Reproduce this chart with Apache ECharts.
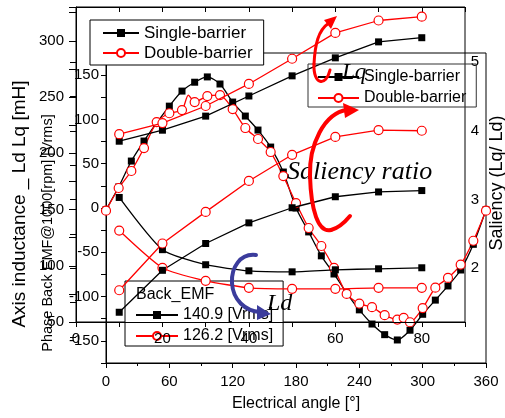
<!DOCTYPE html>
<html>
<head>
<meta charset="utf-8">
<script src="https://cdn.jsdelivr.net/npm/echarts@6.0.0/dist/echarts.min.js"></script>
<style>
  html, body { margin: 0; padding: 0; background: #fff; }
  #main { width: 505px; height: 418px; }
</style>
</head>
<body>
<div id="main"></div>
<script>
// 电流角 beta（度），Ld/Lq 与凸极比的横坐标
var beta = [10, 20, 30, 40, 50, 60, 70, 80];
var lqSingle = [210.7, 220.5, 233, 250.9, 268.8, 284.8, 299, 302.7];
var lqDouble = [217, 226.8, 242, 261.6, 284, 307, 318, 321.4];
var ldSingle = [160.7, 114.3, 100.9, 95.5, 94.6, 96.4, 97.3, 98.2];
var ldDouble = [131.3, 98.2, 86.6, 80.4, 79.5, 79.5, 80.4, 80.4];
var salSingle = [1.36, 1.97, 2.36, 2.66, 2.88, 3.04, 3.11, 3.13];
var salDouble = [1.68, 2.36, 2.82, 3.27, 3.65, 3.91, 4.01, 4.00];

// 反电势波形（电角度）
var emfAngleBlack = [0, 12, 24, 36, 48, 60, 72, 84, 96, 108, 120, 132, 144, 156, 168, 180,
  192, 204, 216, 228, 240, 252, 264, 276, 288, 300, 312, 324, 336, 348, 360];
var emfBlack = [-2, 23.7, 53, 75.6, 96, 115, 132, 142, 148, 140, 119.6, 103.8, 88, 68.8, 40.6, 0,
  -27, -54, -74.5, -96, -115, -131, -143, -149, -138, -120, -104, -88, -70, -41, -2];
var emfAngleRed = [0, 12, 24, 36, 48, 60, 72, 78, 84, 96, 108, 120, 132, 144, 156, 168, 180,
  192, 204, 216, 228, 240, 252, 264, 276, 282, 288, 300, 312, 324, 336, 348, 360];
var emfRed = [-3, 22.6, 41.8, 67.7, 97, 107, 110.6, 127.5, 119.6, 126.4, 127.5, 111.7, 90.3, 77.9, 63.2, 36, 5.6,
  -22.6, -42.9, -67.7, -97, -108, -112, -121, -126, -124, -129, -113, -90, -79, -64, -37, -3];
var redNoMarker = [78];  // 这个折点没有画圆圈

var emfTicks = [0, 60, 120, 180, 240, 300, 360];
var betaLabels = [0, 20, 40, 60, 80];
var lddTicks = [50, 100, 150, 200, 250, 300];
var emfLabels = [-150, -100, -50, 0, 50, 100, 150];
var salLabels = [2, 3, 4, 5];

var FONT = '"Liberation Sans", Arial, sans-serif';
var SERIF = '"Liberation Serif", "Times New Roman", serif';
var RED = '#ff0000';
var BLUE = '#3b3c9c';

function mk(name, xs, ys, red, xi, yi, z, smooth, skip) {
  var data = xs.map(function (x, i) {
    if (skip && skip.indexOf(x) >= 0) return { value: [x, ys[i]], symbol: 'none' };
    return [x, ys[i]];
  });
  return {
    name: name, type: 'line', xAxisIndex: xi, yAxisIndex: yi, z: z,
    data: data,
    symbol: red ? 'circle' : 'rect',
    symbolSize: red ? 9 : 7,
    smooth: smooth || false,
    lineStyle: { color: red ? RED : '#000', width: 1.3 },
    itemStyle: red ? { color: '#fff', borderColor: RED, borderWidth: 1.2 } : { color: '#000', borderWidth: 0 },
    emphasis: { disabled: true },
    silent: true
  };
}

function lbl(extra) {
  var o = { color: '#000', fontFamily: FONT, fontSize: 15 };
  for (var k in extra) o[k] = extra[k];
  return o;
}
function txt(s, x, y, font, align, rot) {
  return { type: 'text', x: x, y: y, rotation: rot || 0, z: 10,
    style: { text: s, font: font, fill: '#000', align: align, verticalAlign: 'middle', textAlign: align, textVerticalAlign: 'middle' } };
}
// 手绘的弯箭头，用三次贝塞尔曲线拼
function curve(p, color, w) {
  return { type: 'bezierCurve', z: 11,
    shape: { x1: p[0], y1: p[1], cpx1: p[2], cpy1: p[3], cpx2: p[4], cpy2: p[5], x2: p[6], y2: p[7] },
    style: { stroke: color, lineWidth: w, fill: null, lineCap: 'round' } };
}
function head(pts, color) {
  return { type: 'polygon', z: 11, shape: { points: pts }, style: { fill: color } };
}
var black = { color: '#000', width: 1 };

var dom = document.getElementById('main');
var myChart = echarts.init(dom, null, { renderer: 'canvas' });

var option = {
  animation: false,
  backgroundColor: '#fff',
  grid: [
    { left: 106, right: 19, top: 53, bottom: 55, show: true, borderColor: '#000', borderWidth: 1, backgroundColor: 'transparent', outerBoundsMode: 'none' },
    { left: 76, right: 40, top: 7, bottom: 96, show: true, borderColor: '#000', borderWidth: 1, backgroundColor: 'transparent', outerBoundsMode: 'none' },
    { left: 76, right: 40, top: 62, bottom: 81, outerBoundsMode: 'none' }
  ],
  xAxis: [
    { gridIndex: 0, type: 'value', min: 0, max: 360, interval: 60,
      axisLine: { onZero: false, lineStyle: black },
      axisTick: { length: 5, lineStyle: black },
      minorTick: { show: true, splitNumber: 2, length: 3, lineStyle: black },
      splitLine: { show: false },
      axisLabel: lbl({ margin: 11, formatter: function (v) { return emfTicks.indexOf(v) >= 0 ? String(v) : ''; } }) },
    { gridIndex: 1, type: 'value', min: 0, max: 90, interval: 10, z: 4,
      axisLine: { onZero: false, lineStyle: black },
      axisTick: { length: 5, lineStyle: black },
      splitLine: { show: false },
      axisLabel: lbl({ margin: 9, formatter: function (v) { return betaLabels.indexOf(v) >= 0 ? String(v) : ''; } }) },
    { gridIndex: 1, type: 'value', min: 0, max: 90, interval: 10, position: 'top', z: 4,
      axisLine: { onZero: false, lineStyle: black },
      axisTick: { inside: true, length: 5, lineStyle: black },
      splitLine: { show: false }, axisLabel: { show: false } },
    { gridIndex: 2, type: 'value', min: 0, max: 90, show: false }
  ],
  yAxis: [
    { gridIndex: 0, type: 'value', min: -175, max: 175, interval: 25,
      axisLine: { onZero: false, lineStyle: black },
      axisTick: { length: 5, lineStyle: black },
      splitLine: { show: false },
      axisLabel: lbl({ margin: 7, formatter: function (v) { return emfLabels.indexOf(v) >= 0 ? String(v) : ''; } }) },
    { gridIndex: 1, type: 'value', min: 50, max: 330, interval: 25, z: 4, position: 'left',
      axisLine: { onZero: false, lineStyle: black },
      axisTick: { length: 7, lineStyle: black },
      splitLine: { show: false },
      axisLabel: lbl({ margin: 12, formatter: function (v) { return lddTicks.indexOf(v) >= 0 ? String(v) : ''; } }) },
    { gridIndex: 2, type: 'value', min: 1, max: 5, interval: 0.5, position: 'right', offset: 21, z: 4,
      axisLine: { show: false },
      axisTick: { show: true, inside: true, length: 6, lineStyle: black },
      splitLine: { show: false },
      axisLabel: lbl({ inside: true, margin: 7, formatter: function (v) { return salLabels.indexOf(v) >= 0 ? String(v) : ''; } }) }
  ],
  legend: [
    { data: ['Single-barrier', 'Double-barrier'], orient: 'vertical', left: 90, top: 20,
      padding: [4.5, 11, 3.5, 12], itemWidth: 36, itemHeight: 10, itemGap: 3,
      backgroundColor: '#fff', borderColor: '#000', borderWidth: 1, selectedMode: false, z: 6,
      textStyle: { fontFamily: FONT, fontSize: 17, color: '#000', lineHeight: 17 } },
    { data: ['Single-barrier', 'Double-barrier'], orient: 'vertical', left: 308, top: 64,
      padding: [5, 10, 1, 9], itemWidth: 41, itemHeight: 10, itemGap: 5,
      borderColor: '#333', borderWidth: 1, selectedMode: false, z: 6,
      textStyle: { fontFamily: FONT, fontSize: 16, color: '#000', lineHeight: 16 } },
    { data: ['140.9 [Vrms]', '126.2 [Vrms]'], orient: 'vertical', left: 125, top: 281,
      padding: [26, 10, 2, 10], itemWidth: 42, itemHeight: 10, itemGap: 5,
      backgroundColor: '#fff', borderColor: '#000', borderWidth: 1, selectedMode: false, z: 3,
      textStyle: { fontFamily: FONT, fontSize: 16, color: '#000', lineHeight: 16 } }
  ],
  series: [
    mk('Single-barrier', beta, lqSingle, false, 1, 1, 5),
    mk('Double-barrier', beta, lqDouble, true, 1, 1, 5),
    mk('Single-barrier', beta, ldSingle, false, 1, 1, 5, 0.2),
    mk('Double-barrier', beta, ldDouble, true, 1, 1, 5, 0.2),
    mk('Single-barrier', beta, salSingle, false, 3, 2, 5),
    mk('Double-barrier', beta, salDouble, true, 3, 2, 5),
    mk('140.9 [Vrms]', emfAngleBlack, emfBlack, false, 0, 0, 2, 0.25),
    mk('126.2 [Vrms]', emfAngleRed, emfRed, true, 0, 0, 2, 0.25, redNoMarker)
  ],
  graphic: [
    txt('Axis inductance _ Ld Lq [mH]', 20, 204, '19px ' + FONT, 'center', Math.PI / 2),
    txt('Phase Back EMF@1000[rpm] [Vrms]', 48, 233, '14.5px ' + FONT, 'center', Math.PI / 2),
    txt('Saliency (Lq/ Ld)', 497, 183, '18px ' + FONT, 'center', Math.PI / 2),
    txt('Electrical angle [°]', 296, 404, '16px ' + FONT, 'center'),
    txt('Back_EMF', 136, 295, '16px ' + FONT, 'left'),
    txt('Lq', 342, 73, 'italic 23px ' + SERIF, 'left'),
    txt('Saliency ratio', 287, 172, 'italic 26px ' + SERIF, 'left'),
    txt('Ld', 267, 304, 'italic 24px ' + SERIF, 'left'),
    curve([330, 70, 326, 87, 313, 85, 314, 64], RED, 3),
    curve([314, 64, 315, 45, 318, 30, 329, 23], RED, 3),
    head([[337, 16], [324, 20], [331, 29]], RED),
    curve([347, 110, 324, 113, 309, 145, 310, 176], RED, 4),
    curve([310, 176, 311, 210, 318, 233, 331, 230], RED, 4),
    curve([331, 230, 339, 228, 345, 222, 350, 216], RED, 4),
    head([[359, 110], [343, 103], [345, 118]], RED),
    curve([256, 255, 240, 253, 231, 268, 232, 283], BLUE, 4),
    curve([232, 283, 233, 300, 245, 311, 260, 312], BLUE, 4),
    head([[271, 314], [257, 305], [257, 320]], BLUE)
  ]
};

if (option && typeof option === 'object') {
  myChart.setOption(option);
}
window.addEventListener('resize', myChart.resize);
</script>
</body>
</html>
